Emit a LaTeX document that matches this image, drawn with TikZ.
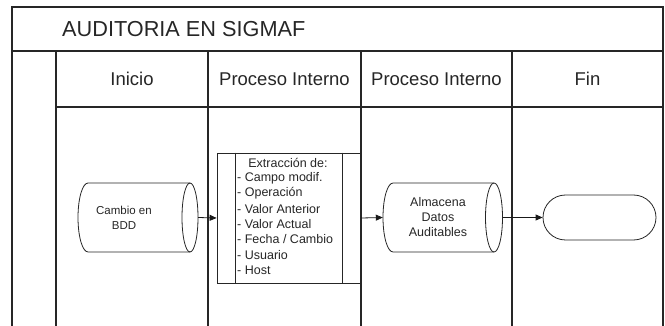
\documentclass[tikz,border=0pt]{standalone}
\usepackage{fontspec}
\setmainfont{Liberation Sans}
\usetikzlibrary{arrows.meta}
\begin{document}
\begin{tikzpicture}[x=1pt,y=-1pt,
  frame/.style={line width=1.3pt, draw=black!85},
  shp/.style={line width=0.8pt, draw=black!85},
  conn/.style={line width=0.8pt, draw=black!90, -{Triangle[length=7pt,width=6pt]}},
  hdr/.style={font=\fontsize{18.5}{22}\selectfont, text=black!85},
  txt/.style={font=\fontsize{12.5}{15.3}\selectfont, text=black!85, inner sep=0pt, align=center},
  ltxt/.style={font=\fontsize{12.5}{15.3}\selectfont, text=black!85, inner sep=0pt, anchor=west}]
\useasboundingbox (0,0) rectangle (665,326);
% frame
\draw[frame] (12,326) -- (12,7) -- (663,7) -- (663,326);
\draw[frame] (12,51) -- (663,51);
\draw[frame] (56,107) -- (663,107);
\foreach \x in {56,208,361,512} \draw[frame] (\x,51) -- (\x,326);
% title and headers
\node[anchor=west, inner sep=0pt, font=\fontsize{21.7}{25}\selectfont, text=black!85] (title) at (62,29) {AUDITORIA EN SIGMAF};
\node[hdr] (h1) at (132,79) {Inicio};
\node[hdr] (h2) at (284.5,79) {Proceso Interno};
\node[hdr] (h3) at (436.5,79) {Proceso Interno};
\node[hdr] (h4) at (587.5,79) {Fin};
% cylinder 1
\node[minimum width=120pt, minimum height=69pt, inner sep=0pt] (cyl1) at (138,217.5) {};
\draw[shp] (190,183) -- (88,183) arc[start angle=-90, end angle=-270, x radius=10, y radius=34.5] -- (190,252);
\draw[shp] (190,217.5) ellipse[x radius=8, y radius=34.5];
\node[txt, font=\fontsize{11.5}{15}\selectfont] (cyl1t) at (124,217.5) {Cambio en\\BDD};
% process box
\node[shp, minimum width=144pt, minimum height=130pt, inner sep=0pt] (proc) at (289,218) {};
\draw[shp] ([xshift=19pt]proc.north west) -- ([xshift=19pt]proc.south west);
\draw[shp] ([xshift=-19pt]proc.north east) -- ([xshift=-19pt]proc.south east);
\node[txt] (ptitle) at (288,163) {Extracción de:};
\foreach \t [count=\i] in {- Campo modif., - Operación, - Valor Anterior, - Valor Actual, - Fecha / Cambio, - Usuario, - Host}
  \node[ltxt] (pl\i) at (237, 163+15.3*\i) {\t};
% cylinder 2
\node[minimum width=120pt, minimum height=69pt, inner sep=0pt] (cyl2) at (443,217.5) {};
\draw[shp] (494,183) -- (393,183) arc[start angle=-90, end angle=-270, x radius=10, y radius=34.5] -- (494,252);
\draw[shp] (494,217.5) ellipse[x radius=8.5, y radius=34.5];
\node[txt] (cyl2t) at (438,217) {Almacena\\Datos\\Auditables};
% terminal
\node[shp, rounded corners=22.5pt, minimum width=113pt, minimum height=45pt, inner sep=0pt] (term) at (599.5,217.5) {};
% connectors
\draw[conn] (cyl1.east) -- (proc.west);
\draw[conn] (proc.east) -- (cyl2.west);
\draw[conn] (cyl2.east) -- (term.west);
\end{tikzpicture}
\end{document}
